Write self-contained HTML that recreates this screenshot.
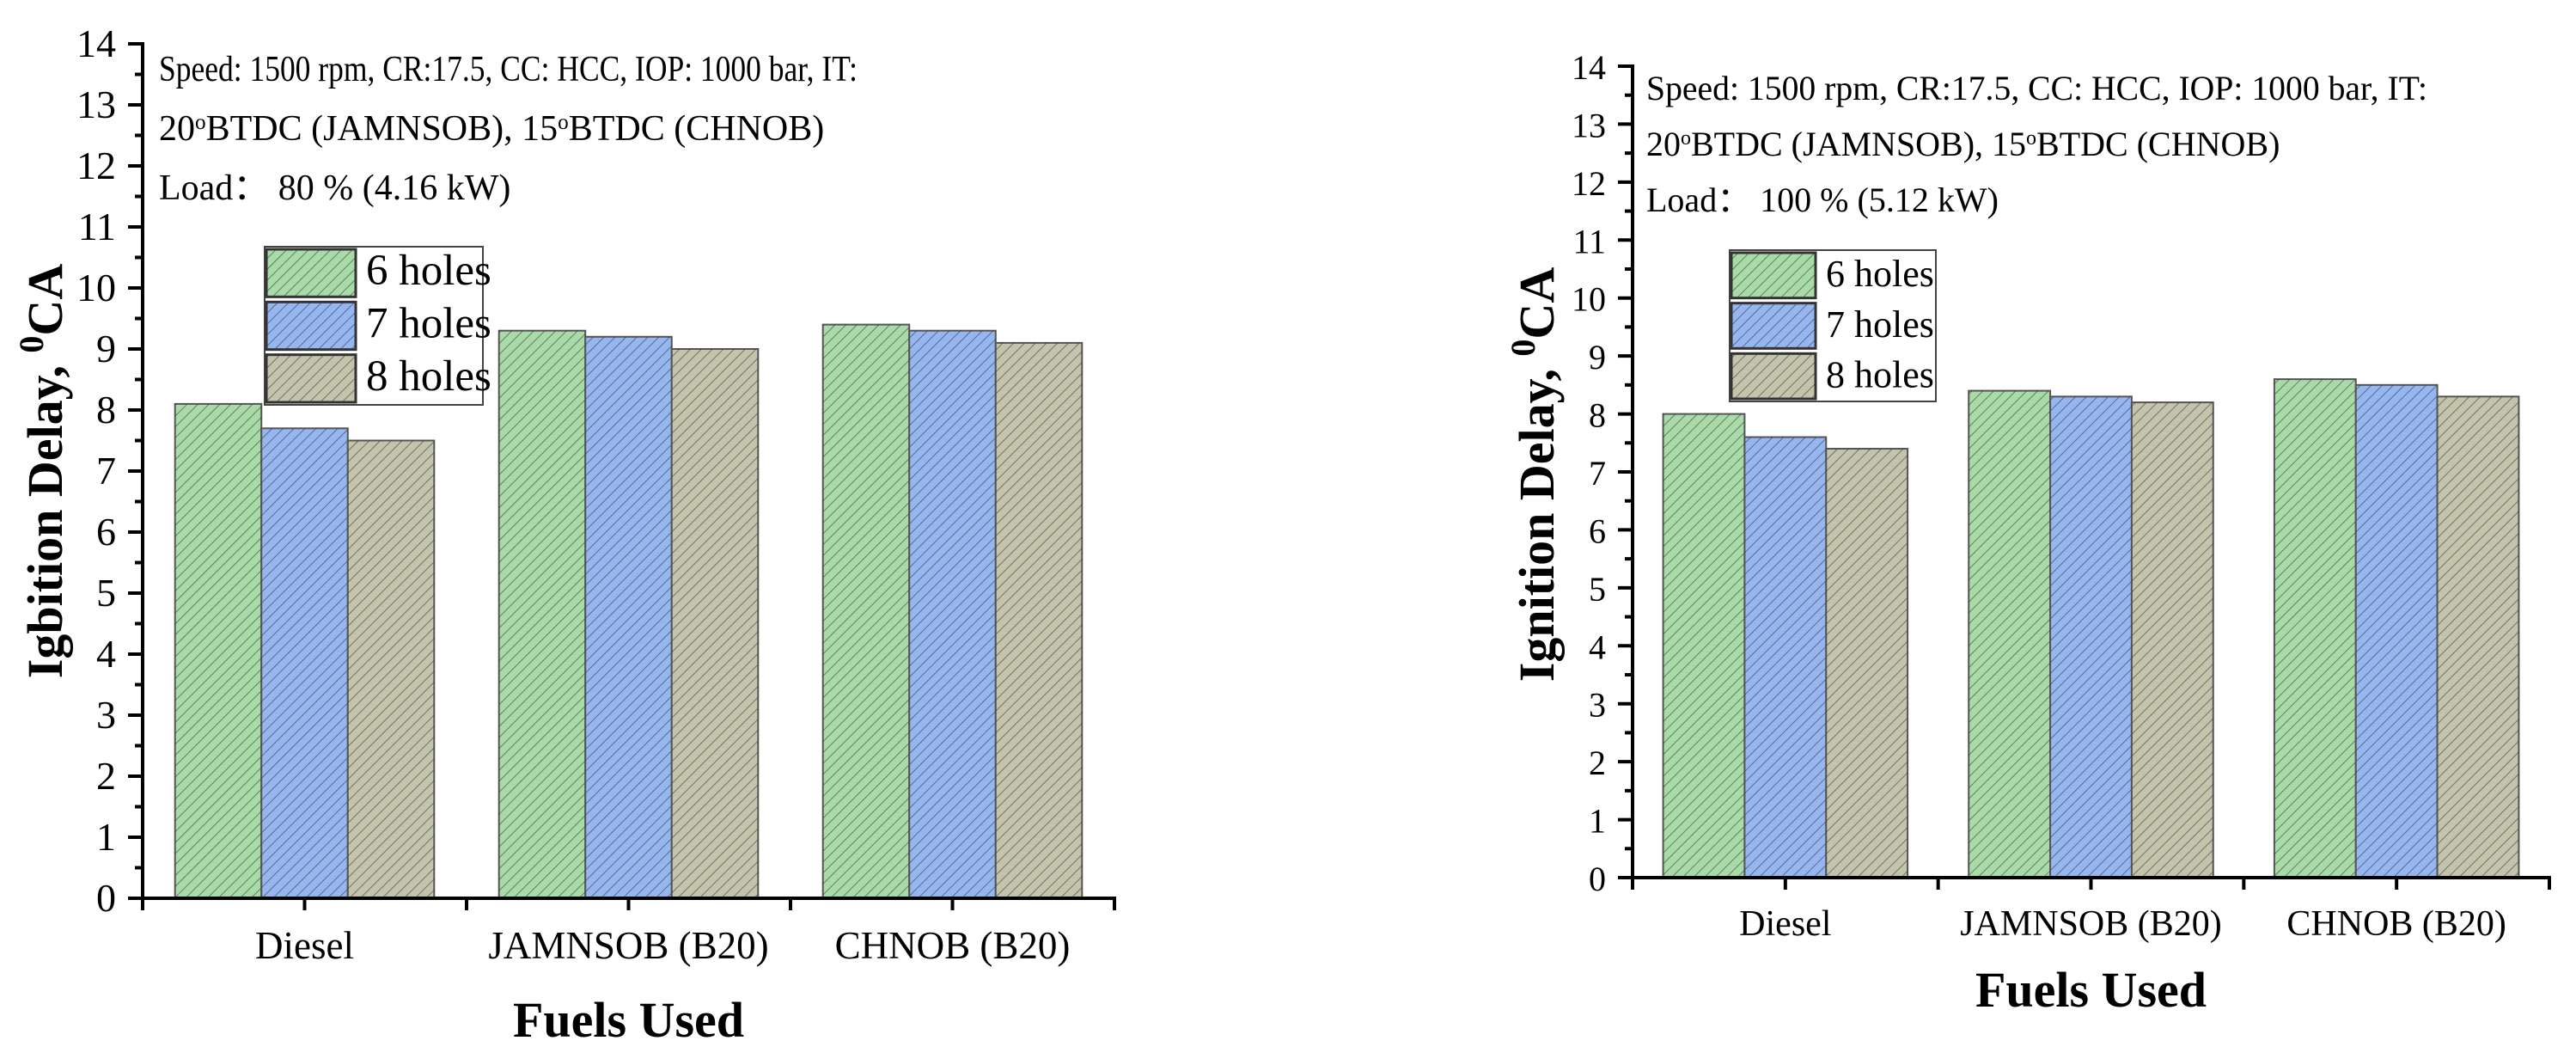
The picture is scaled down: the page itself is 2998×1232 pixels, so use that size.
<!DOCTYPE html>
<html><head><meta charset="utf-8"><style>
html,body{margin:0;padding:0;background:#fff;}
svg{display:block;font-family:"Liberation Serif",serif;}
</style></head><body>
<svg id="chart" width="2998" height="1232" viewBox="0 0 2998 1232">
<defs>
<pattern id="hatch" patternUnits="userSpaceOnUse" width="9" height="9" patternTransform="rotate(45)">
<rect width="9" height="9" fill="none"/><line x1="0" y1="0" x2="0" y2="9" stroke="#3a3a3a" stroke-width="1.6" stroke-opacity="0.75"/>
</pattern>
</defs>
</svg>
<script>
const categories = ["Diesel", "JAMNSOB (B20)", "CHNOB (B20)"];
const seriesNames = ["6 holes", "7 holes", "8 holes"];
const leftHoles6 = [8.1, 9.3, 9.4];
const leftHoles7 = [7.7, 9.2, 9.3];
const leftHoles8 = [7.5, 9.0, 9.1];
const rightHoles6 = [8.0, 8.4, 8.6];
const rightHoles7 = [7.6, 8.3, 8.5];
const rightHoles8 = [7.4, 8.2, 8.3];
const yTicks = [0,1,2,3,4,5,6,7,8,9,10,11,12,13,14];
const colors = ["#a8dba8", "#95b6f0", "#c3c4ab"];

const svg = document.getElementById('chart');
const NS = 'http://www.w3.org/2000/svg';
function mk(tag, attrs, parent){
  const e = document.createElementNS(NS, tag);
  for (const k in attrs) e.setAttribute(k, attrs[k]);
  (parent||svg).appendChild(e);
  return e;
}

function drawChart(cfg, series, prefix){
  const g = mk('g', {});
  
  
  const yScale = v => cfg.y0 - (v / 14) * (cfg.y0 - cfg.y14);
  const cw = (cfg.x1 - cfg.x0) / categories.length;
  const xCenter = i => cfg.x0 + cw * (i + 0.5);
  const bw = cw * 0.8 / 3;
  series.forEach((vals, s) => {
    vals.forEach((v, i) => {
      const x = xCenter(i) - 1.5 * bw + s * bw;
      const y = yScale(v);
      const b = mk('rect', {x:x, y:y, width:bw, height:cfg.y0 - y, fill:colors[s], stroke:'#555', 'stroke-width':2}, g);
      
      
      const h = mk('rect', {x:x, y:y, width:bw, height:cfg.y0 - y, fill:'url(#hatch)'}, g);
      
      
    });
  });
  const ya = mk('line', {x1:cfg.x0, y1:cfg.y0 + 2, x2:cfg.x0, y2:cfg.y14 - 2, stroke:'#000', 'stroke-width':4}, g);
  
  
  yTicks.forEach(t => {
    const y = yScale(t);
    const tk = mk('line', {x1:cfg.x0 - 17, y1:y, x2:cfg.x0, y2:y, stroke:'#000', 'stroke-width':4}, g);
    
    
    if (t < 14) {
      const m = mk('line', {x1:cfg.x0 - 9, y1:yScale(t + 0.5), x2:cfg.x0, y2:yScale(t + 0.5), stroke:'#000', 'stroke-width':4}, g);
      
      
    }
    const lb = mk('text', {x:cfg.x0 - 31, y:y + 15, 'font-size':cfg.tickFs, 'text-anchor':'end', fill:'#000'}, g);
    lb.textContent = t;
    
    
  });
  const xa = mk('line', {x1:cfg.x0 - 2, y1:cfg.y0, x2:cfg.x1 + 2, y2:cfg.y0, stroke:'#000', 'stroke-width':4}, g);
  
  
  for (let i = 0; i <= categories.length * 2; i++) {
    const x = cfg.x0 + cw * i / 2;
    const tk = mk('line', {x1:x, y1:cfg.y0, x2:x, y2:cfg.y0 + 14, stroke:'#000', 'stroke-width':4}, g);
    
    
  }
  categories.forEach((c, i) => {
    const lb = mk('text', {x:xCenter(i), y:cfg.catY, 'font-size':cfg.catFs, 'text-anchor':'middle', fill:'#000'}, g);
    lb.textContent = c;
    
    
  });
  const xt = mk('text', {x:(cfg.x0 + cfg.x1) / 2, y:cfg.xTitleY, 'font-size':58, 'font-weight':'bold', 'text-anchor':'middle', fill:'#000'}, g);
  xt.textContent = 'Fuels Used';
  
  
  const yt = mk('text', {x:0, y:0, 'font-size':58, 'font-weight':'bold', 'text-anchor':'middle', fill:'#000', transform:'translate(' + cfg.yTitleX + ',' + cfg.yTitleY + ') rotate(-90)'}, g);
  yt.innerHTML = cfg.yTitle + ', <tspan baseline-shift="super" font-size="40">0</tspan>CA';
  
  
  const ann = mk('g', {}, g);
  
  
  const l1 = mk('text', {x:cfg.annX, y:cfg.annY[0], 'font-size':cfg.annFs, textLength:cfg.annW, lengthAdjust:'spacingAndGlyphs', fill:'#000'}, ann);
  l1.textContent = 'Speed: 1500 rpm, CR:17.5, CC: HCC, IOP: 1000 bar, IT:';
  const l2 = mk('text', {x:cfg.annX, y:cfg.annY[1], 'font-size':cfg.annFs, fill:'#000'}, ann);
  l2.innerHTML = '20<tspan baseline-shift="super" font-size="' + (cfg.annFs*0.6) + '">o</tspan>BTDC (JAMNSOB), 15<tspan baseline-shift="super" font-size="' + (cfg.annFs*0.6) + '">o</tspan>BTDC (CHNOB)';
  const l3 = mk('text', {x:cfg.annX, y:cfg.annY[2], 'font-size':cfg.annFs, fill:'#000'}, ann);
  l3.textContent = cfg.load;
  const lg = mk('g', {}, g);
  
  
  mk('rect', {x:cfg.lx, y:cfg.ly, width:cfg.lw, height:cfg.lh, fill:'#fff', stroke:'#444', 'stroke-width':2}, lg);
  const rh = cfg.lh / 3;
  seriesNames.forEach((n, s) => {
    const e = mk('g', {}, lg);
    
    
    mk('rect', {x:cfg.lx + 2, y:cfg.ly + s * rh + 3, width:cfg.pw, height:rh - 6, fill:colors[s], stroke:'#333', 'stroke-width':3}, e);
    mk('rect', {x:cfg.lx + 2, y:cfg.ly + s * rh + 3, width:cfg.pw, height:rh - 6, fill:'url(#hatch)'}, e);
    const t = mk('text', {x:cfg.lx + cfg.pw + 14, y:cfg.ly + s * rh + rh * 0.72, 'font-size':cfg.legFs, fill:'#000'}, e);
    t.textContent = n;
  });
}

drawChart({x0:166, x1:1297, y0:1045, y14:51, tickFs:46, catFs:45, catY:1115, xTitleY:1206, yTitleX:72, yTitleY:548, yTitle:'Igbition Delay',
  annX:185, annY:[94,163,232], annFs:42, annW:813, load:'Load\uFF1A 80 %  (4.16 kW)',
  lx:308, ly:287, lw:254, lh:184, pw:104, legFs:51},
  [leftHoles6, leftHoles7, leftHoles8], 'left');
drawChart({x0:1900, x1:2967, y0:1021, y14:77, tickFs:40, catFs:42, catY:1088, xTitleY:1171, yTitleX:1808, yTitleY:552, yTitle:'Ignition Delay',
  annX:1916, annY:[116,181,246], annFs:40, annW:909, load:'Load\uFF1A 100 %  (5.12 kW)',
  lx:2013, ly:291, lw:240, lh:176, pw:98, legFs:44},
  [rightHoles6, rightHoles7, rightHoles8], 'right');
</script>
</body></html>
